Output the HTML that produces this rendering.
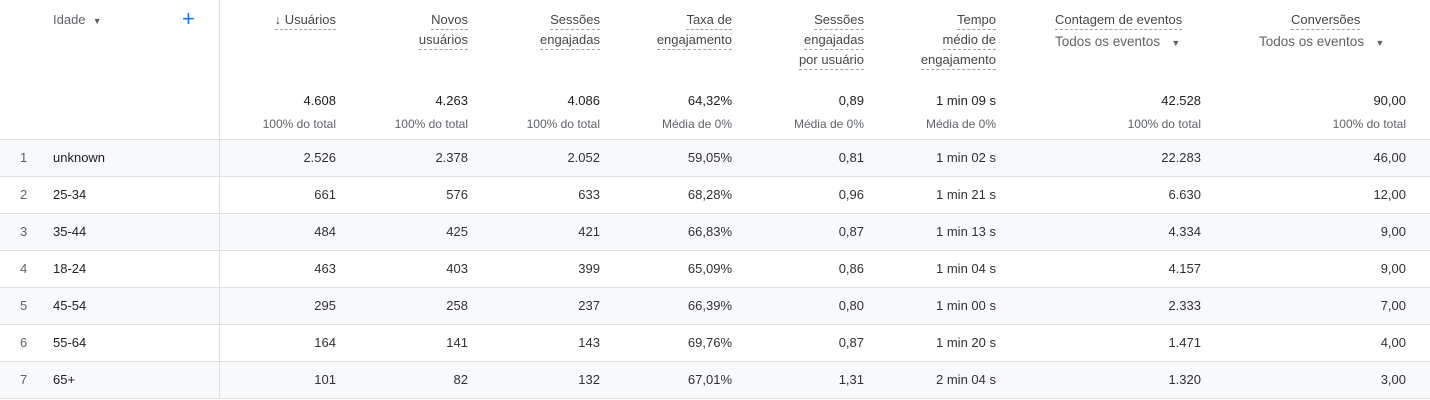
<!DOCTYPE html>
<html><head><meta charset="utf-8"><style>
body{margin:0;width:1430px;height:400px;background:#fff;position:relative;overflow:hidden;font-family:"Liberation Sans",Arial,sans-serif;color:#3c4043}
.a{position:absolute;white-space:nowrap}
.r{text-align:right}
.h{font-size:13px;color:#444746;line-height:20px}
.u{border-bottom:1px dashed #a0a4a8;line-height:18px;display:inline-block}
.row{position:absolute;left:0;width:1430px;height:37px;border-bottom:1px solid #e0e0e0}
.sh{background:#f8f9fa}
.d{font-size:13px;color:#303134}
.t{font-size:13px;color:#202124;font-weight:500}
.s{font-size:12px;color:#5f6368}
</style></head><body>
<div class="row" style="top:139px;height:0;border-bottom:1px solid #e0e0e0"></div>
<div id="rows"></div>
<div class="a" style="left:219px;top:0;width:1px;height:398px;background:#e0e0e0"></div>
<div class="a h" style="left:53px;top:10px;color:#5f6368">Idade &nbsp;<span style="font-size:9px">▼</span></div>
<div class="a" style="left:182px;top:6px;font-size:22px;color:#1a73e8;line-height:26px">+</div>
<div id="hdr"></div>
<script>
var H=[[336,["↓ Usuários"]],[468,["Novos","usuários"]],[600,["Sessões","engajadas"]],[732,["Taxa de","engajamento"]],[864,["Sessões","engajadas","por usuário"]],[996,["Tempo","médio de","engajamento"]]];
var out="";
H.forEach(function(c){c[1].forEach(function(t,i){out+='<div class="a h r" style="right:'+(1430-c[0])+'px;top:'+(10+i*20)+'px"><span class="u">'+t+'</span></div>';});});
out+='<div class="a h" style="left:1055px;top:10px"><span class="u">Contagem de eventos</span></div><div class="a h" style="left:1055px;top:32px;font-size:13.5px;color:#5f6368">Todos os eventos &nbsp;&nbsp;<span style="font-size:9px">▼</span></div>';
out+='<div class="a h" style="left:1291px;top:10px"><span class="u">Conversões</span></div><div class="a h" style="left:1259px;top:32px;font-size:13.5px;color:#5f6368">Todos os eventos &nbsp;&nbsp;<span style="font-size:9px">▼</span></div>';
var R=[336,468,600,732,864,996,1201,1406];
var T=["4.608","4.263","4.086","64,32%","0,89","1 min 09 s","42.528","90,00"];
var S=["100% do total","100% do total","100% do total","Média de 0%","Média de 0%","Média de 0%","100% do total","100% do total"];
R.forEach(function(x,i){out+='<div class="a t r" style="right:'+(1430-x)+'px;top:93px">'+T[i]+'</div><div class="a s r" style="right:'+(1430-x)+'px;top:117px">'+S[i]+'</div>';});
document.getElementById("hdr").innerHTML=out;
var D=[["unknown","2.526","2.378","2.052","59,05%","0,81","1 min 02 s","22.283","46,00"],
["25-34","661","576","633","68,28%","0,96","1 min 21 s","6.630","12,00"],
["35-44","484","425","421","66,83%","0,87","1 min 13 s","4.334","9,00"],
["18-24","463","403","399","65,09%","0,86","1 min 04 s","4.157","9,00"],
["45-54","295","258","237","66,39%","0,80","1 min 00 s","2.333","7,00"],
["55-64","164","141","143","69,76%","0,87","1 min 20 s","1.471","4,00"],
["65+","101","82","132","67,01%","1,31","2 min 04 s","1.320","3,00"]];
var o="";
D.forEach(function(r,i){var top=140+i*37;
o+='<div class="row'+(i%2==0?' sh':'')+'" style="top:'+top+'px;height:36px"></div>';
o+='<div class="a d" style="left:20px;top:'+(top+10)+'px;color:#5f6368">'+(i+1)+'</div>';
o+='<div class="a d" style="left:53px;top:'+(top+10)+'px;color:#202124;font-weight:500">'+r[0]+'</div>';
R.forEach(function(x,j){o+='<div class="a d r" style="right:'+(1430-x)+'px;top:'+(top+10)+'px">'+r[j+1]+'</div>';});
});
document.getElementById("rows").innerHTML=o;
</script>
</body></html>
